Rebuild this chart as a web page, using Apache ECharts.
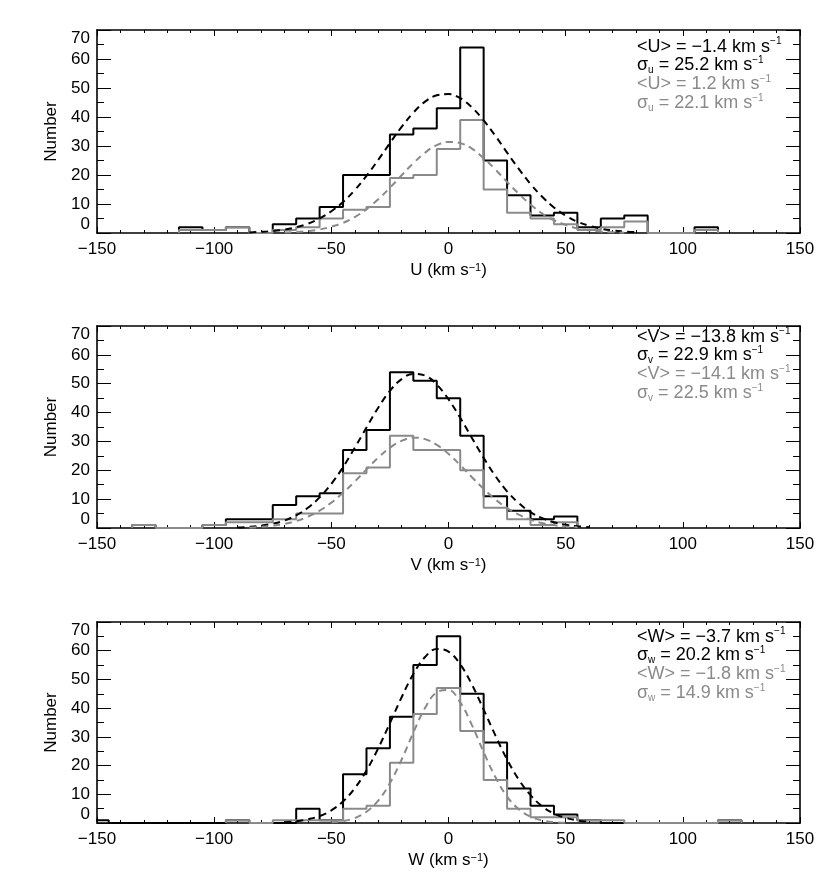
<!DOCTYPE html>
<html>
<head>
<meta charset="utf-8">
<script src="https://cdn.jsdelivr.net/npm/echarts@6.0.0/dist/echarts.min.js"></script>
<style>
  html, body { margin: 0; padding: 0; background: #fff; }
  #chart { width: 830px; height: 886px; }
</style>
</head>
<body>
<div id="chart"></div>
<script>
// histogram bins: 10 km/s wide, centred on multiples of 10
const binWidth = 10;
const binCenters = [-150, -140, -130, -120, -110, -100, -90, -80, -70, -60, -50, -40, -30, -20, -10,
  0, 10, 20, 30, 40, 50, 60, 70, 80, 90, 100, 110, 120, 130, 140, 150];

const uBlack = [0,0,0,0,2,1,2,0,3,5,9,20,20,34,36,43,64,25,13,6,7,2,5,6,0,0,2,0,0,0,0];
const uGray  = [0,0,0,0,1,1,2,0,1,2,5,8,9,19,20,29,39,15,7,5,3,1,2,4,0,0,1,0,0,0,0];
const vBlack = [0,0,1,0,0,1,3,3,8,11,12,27,34,54,51,45,32,11,6,3,4,0,0,0,0,0,0,0,0,0,0];
const vGray  = [0,0,1,0,0,1,2,2,3,5,5,19,21,32,27,27,20,7,3,1,2,0,0,0,0,0,0,0,0,0,0];
const wBlack = [1,0,0,0,0,0,1,0,0,5,1,17,26,37,55,65,45,28,12,6,3,1,0,0,0,0,0,1,0,0,0];
const wGray  = [0,0,0,0,0,0,1,0,1,1,1,5,6,21,38,47,32,15,5,2,2,1,1,0,0,0,0,1,0,0,0];

// gaussian fits, every 5 km/s
const fitX = [-90,-85,-80,-75,-70,-65,-60,-55,-50,-45,-40,-35,-30,-25,-20,-15,-10,-5,
  0,5,10,15,20,25,30,35,40,45,50,55,60,65,70,75,80,85,90];
const uBlackFit = [null,0.2,0.4,0.7,1.2,2.0,3.2,5.0,7.5,10.7,14.8,19.7,25.2,31.0,36.6,41.5,45.3,47.5,
  47.9,46.5,43.3,38.8,33.5,27.7,22.1,16.9,12.5,8.8,6.0,3.9,2.5,1.5,0.9,0.5,0.3,null,null];
const uGrayFit = [null,null,null,null,0.2,0.35,0.7,1.2,2.2,3.5,5.5,8.2,11.6,15.6,19.9,24.1,27.7,30.3,
  31.4,31.0,29.1,25.8,21.9,17.6,13.5,9.8,6.7,4.4,2.8,1.6,0.9,0.5,0.25,0.1,null,null,null];
const vBlackFit = [0.2,0.4,0.8,1.5,2.6,4.4,7.0,10.6,15.3,21.1,27.8,34.8,41.7,47.5,51.6,53.4,52.8,49.7,
  44.6,38.2,31.2,24.3,18.0,12.7,8.6,5.5,3.4,2.0,1.1,0.6,0.3,null,null,null,null,null,null];
const vGrayFit = [null,0.2,0.4,0.8,1.4,2.4,3.9,6.0,8.8,12.2,16.1,20.3,24.4,27.8,30.2,31.3,30.8,28.8,
  25.7,21.8,17.6,13.6,9.9,6.9,4.6,2.9,1.7,1.0,0.5,0.3,null,null,null,null,null,null,null];
const wBlackFit = [null,null,null,null,0.3,0.6,1.3,2.4,4.4,7.5,12.1,18.3,26.0,34.8,43.8,51.9,57.8,60.6,
  59.7,55.3,48.2,39.5,30.5,22.1,15.1,9.7,5.8,3.3,1.8,0.9,0.4,null,null,null,null,null,null];
const wGrayFit = [null,null,null,null,null,null,null,null,0.25,0.7,1.7,3.9,7.8,13.9,22.1,31.5,40.1,45.5,
  46.3,42.0,34.1,24.7,16.0,9.2,4.8,2.2,0.9,0.3,0.1,null,null,null,null,null,null,null,null];

const uMeans = ['−1.4', '1.2'];   const uSigmas = ['25.2', '22.1'];
const vMeans = ['−13.8', '−14.1']; const vSigmas = ['22.9', '22.5'];
const wMeans = ['−3.7', '−1.8'];  const wSigmas = ['20.2', '14.9'];

const FONT = "'Liberation Sans', Arial, Helvetica, sans-serif";
const GRAY = '#8a8a8a';

const panels = [
  { key: 'U', black: uBlack, gray: uGray, bFit: uBlackFit, gFit: uGrayFit, means: uMeans, sigmas: uSigmas,
    top: 30, height: 203, textY: [46.7, 65, 84.3, 103.3] },
  { key: 'V', black: vBlack, gray: vGray, bFit: vBlackFit, gFit: vGrayFit, means: vMeans, sigmas: vSigmas,
    top: 326, height: 202, textY: [336.7, 355, 374.3, 393.3] },
  { key: 'W', black: wBlack, gray: wGray, bFit: wBlackFit, gFit: wGrayFit, means: wMeans, sigmas: wSigmas,
    top: 622, height: 201, textY: [636.7, 655, 674.3, 693.3] }
];

function stepPoints(counts) {
  let first = counts.findIndex(n => n > 0);
  let last = counts.length - 1;
  while (last > 0 && counts[last] === 0) last--;
  const pts = [[binCenters[first] - binWidth / 2, 0]];
  for (let i = first; i <= last; i++) {
    pts.push([binCenters[i] - binWidth / 2, counts[i]]);
    pts.push([binCenters[i] + binWidth / 2, counts[i]]);
  }
  pts.push([binCenters[last] + binWidth / 2, 0]);
  return pts;
}

function fitPoints(vals) {
  return fitX.map((x, i) => [x, vals[i]]).filter(d => d[1] != null);
}

const minus = v => (v < 0 ? '−' + Math.abs(v) : String(v));

const chart = echarts.init(document.getElementById('chart'), null, { renderer: 'canvas' });

const grid = [], xAxis = [], yAxis = [], series = [], graphic = [];

const supRich = {
  sup: { fontSize: 11, fontFamily: FONT, verticalAlign: 'top', lineHeight: 13 }
};

panels.forEach((p, k) => {
  grid.push({ left: 97, top: p.top, width: 703, height: p.height });

  const axisLine = { show: true, onZero: false, lineStyle: { color: '#000', width: 1.6 } };
  xAxis.push({
    type: 'value', gridIndex: k, position: 'bottom', min: -150, max: 150, interval: 50,
    axisLine, splitLine: { show: false },
    axisTick: { show: true, inside: true, length: 6, lineStyle: { color: '#000' } },
    minorTick: { show: true, splitNumber: 5, length: 3, lineStyle: { color: '#000' } },
    axisLabel: { margin: 8, fontSize: 17, fontFamily: FONT, color: '#000', formatter: minus },
    name: p.key + ' (km s{sup|−1})', nameLocation: 'middle', nameGap: 29,
    nameTextStyle: { fontSize: 17, fontFamily: FONT, color: '#000', rich: supRich }
  });
  xAxis.push({
    type: 'value', gridIndex: k, position: 'top', min: -150, max: 150, interval: 50,
    axisLine, splitLine: { show: false }, axisLabel: { show: false },
    axisTick: { show: true, inside: true, length: 6, lineStyle: { color: '#000' } },
    minorTick: { show: true, splitNumber: 5, length: 3, lineStyle: { color: '#000' } }
  });
  yAxis.push({
    type: 'value', gridIndex: k, position: 'left', min: 0, max: 70, interval: 10,
    axisLine, splitLine: { show: false },
    axisTick: { show: true, inside: true, length: 14, lineStyle: { color: '#000' } },
    minorTick: { show: true, splitNumber: 2, length: 7, lineStyle: { color: '#000' } },
    axisLabel: { margin: 7, fontSize: 17, fontFamily: FONT, color: '#000',
      verticalAlignMinLabel: 'bottom', verticalAlignMaxLabel: 'top' },
    name: 'Number', nameLocation: 'middle', nameGap: 37,
    nameTextStyle: { fontSize: 17, fontFamily: FONT, color: '#000' }
  });
  yAxis.push({
    type: 'value', gridIndex: k, position: 'right', min: 0, max: 70, interval: 10,
    axisLine, splitLine: { show: false }, axisLabel: { show: false },
    axisTick: { show: true, inside: true, length: 14, lineStyle: { color: '#000' } },
    minorTick: { show: true, splitNumber: 2, length: 7, lineStyle: { color: '#000' } }
  });

  const base = { type: 'line', xAxisIndex: 2 * k, yAxisIndex: 2 * k, symbol: 'none', silent: true };
  series.push(Object.assign({}, base, { data: stepPoints(p.black), z: 3,
    lineStyle: { color: '#000', width: 2 } }));
  series.push(Object.assign({}, base, { data: stepPoints(p.gray), z: 4,
    lineStyle: { color: GRAY, width: 2 } }));
  series.push(Object.assign({}, base, { data: fitPoints(p.bFit), z: 5, smooth: 0.4,
    lineStyle: { color: '#000', width: 2, type: [7, 5] } }));
  series.push(Object.assign({}, base, { data: fitPoints(p.gFit), z: 6, smooth: 0.4,
    lineStyle: { color: GRAY, width: 2, type: [7, 5] } }));

  // annotation block, top right of each panel
  const sub = p.key.toLowerCase();
  const lines = [
    ['<' + p.key + '> = ' + p.means[0] + ' km s{sup|−1}', '#000'],
    ['σ{sub|' + sub + '} = ' + p.sigmas[0] + ' km s{sup|−1}', '#000'],
    ['<' + p.key + '> = ' + p.means[1] + ' km s{sup|−1}', GRAY],
    ['σ{sub|' + sub + '} = ' + p.sigmas[1] + ' km s{sup|−1}', GRAY]
  ];
  lines.forEach((ln, i) => {
    graphic.push({
      type: 'text', x: 637, y: p.textY[i], silent: true,
      style: {
        text: ln[0], fill: ln[1], fontSize: 18, fontFamily: FONT,
        verticalAlign: 'middle', lineHeight: 20,
        rich: {
          sup: { fontSize: 10, fontFamily: FONT, fill: ln[1], verticalAlign: 'top', lineHeight: 12 },
          sub: { fontSize: 10, fontFamily: FONT, fill: ln[1], verticalAlign: 'bottom', lineHeight: 12 }
        }
      }
    });
  });
});

chart.setOption({
  animation: false,
  backgroundColor: '#fff',
  grid, xAxis, yAxis, series, graphic
});
</script>
</body>
</html>
